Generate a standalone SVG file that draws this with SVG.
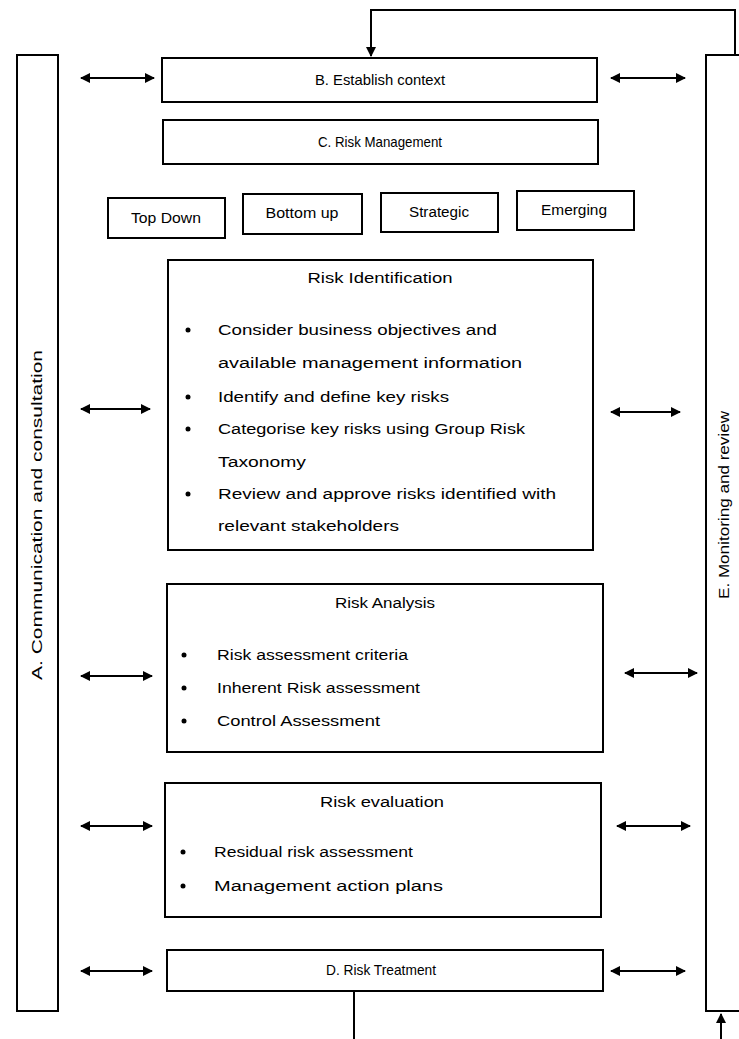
<svg xmlns="http://www.w3.org/2000/svg" width="739" height="1039" viewBox="0 0 739 1039">
<style>
.box{fill:#fff;stroke:#000;stroke-width:2}
.t{font-family:"Liberation Sans",Arial,sans-serif;font-size:14px;fill:#000}
.h{font-size:15px}
.c{text-anchor:middle}
.con{stroke:#000;stroke-width:2;fill:none}
.dot{fill:#000}
</style>
<defs>
<marker id="ah" viewBox="0 0 10 10" refX="9" refY="5" markerWidth="5" markerHeight="5" orient="auto-start-reverse" markerUnits="strokeWidth">
<path d="M0,0 L10,5 L0,10 z" fill="#000"/>
</marker>
</defs>
<rect width="739" height="1039" fill="#fff"/>

<g id="barA">
<rect class="box" x="17" y="55" width="41" height="956"/>
<text class="t" font-size="15" transform="translate(42,515) rotate(-90)" text-anchor="middle" textLength="330" lengthAdjust="spacingAndGlyphs">A.  Communication and consultation</text>
</g>
<g id="barE">
<path class="con" d="M739,55 L706,55 L706,1011 L739,1011"/>
<text class="t" font-size="14" transform="translate(729,505) rotate(-90)" text-anchor="middle" textLength="188" lengthAdjust="spacingAndGlyphs">E. Monitoring and review</text>
</g>

<g id="nodeB">
<rect class="box" x="162" y="58" width="435" height="44"/>
<text class="t h c" x="380" y="85" textLength="130" lengthAdjust="spacingAndGlyphs">B. Establish context</text>
</g>
<g id="nodeC">
<rect class="box" x="163" y="120" width="435" height="44"/>
<text class="t h c" x="380" y="147" textLength="124" lengthAdjust="spacingAndGlyphs">C. Risk Management</text>
</g>
<g id="topdown">
<rect class="box" x="108" y="198" width="117" height="40"/>
<text class="t c" x="166" y="223" textLength="70" lengthAdjust="spacingAndGlyphs">Top Down</text>
</g>
<g id="bottomup">
<rect class="box" x="243" y="194" width="119" height="40"/>
<text class="t c" x="302" y="218" textLength="73" lengthAdjust="spacingAndGlyphs">Bottom up</text>
</g>
<g id="strategic">
<rect class="box" x="381" y="193" width="117" height="39"/>
<text class="t c" x="439" y="217" textLength="60" lengthAdjust="spacingAndGlyphs">Strategic</text>
</g>
<g id="emerging">
<rect class="box" x="517" y="191" width="117" height="39"/>
<text class="t c" x="574" y="215" textLength="66" lengthAdjust="spacingAndGlyphs">Emerging</text>
</g>

<g id="riskid">
<rect class="box" x="168" y="260" width="425" height="290"/>
<text class="t c" x="380" y="283" textLength="145" lengthAdjust="spacingAndGlyphs">Risk Identification</text>
<circle class="dot" cx="188" cy="330" r="2.5"/>
<text class="t" x="218" y="335" textLength="279" lengthAdjust="spacingAndGlyphs">Consider business objectives and</text>
<text class="t" x="218" y="368" textLength="304" lengthAdjust="spacingAndGlyphs">available management information</text>
<circle class="dot" cx="188" cy="397" r="2.5"/>
<text class="t" x="218" y="402" textLength="231" lengthAdjust="spacingAndGlyphs">Identify and define key risks</text>
<circle class="dot" cx="188" cy="429" r="2.5"/>
<text class="t" x="218" y="434" textLength="307" lengthAdjust="spacingAndGlyphs">Categorise key risks using Group Risk</text>
<text class="t" x="218" y="467" textLength="88" lengthAdjust="spacingAndGlyphs">Taxonomy</text>
<circle class="dot" cx="188" cy="494" r="2.5"/>
<text class="t" x="218" y="499" textLength="338" lengthAdjust="spacingAndGlyphs">Review and approve risks identified with</text>
<text class="t" x="218" y="531" textLength="181" lengthAdjust="spacingAndGlyphs">relevant stakeholders</text>
</g>

<g id="riskanalysis">
<rect class="box" x="167" y="584" width="436" height="168"/>
<text class="t c" x="385" y="608" textLength="100" lengthAdjust="spacingAndGlyphs">Risk Analysis</text>
<circle class="dot" cx="184" cy="655" r="2.5"/>
<text class="t" x="217" y="660" textLength="191" lengthAdjust="spacingAndGlyphs">Risk assessment criteria</text>
<circle class="dot" cx="184" cy="688" r="2.5"/>
<text class="t" x="217" y="693" textLength="203" lengthAdjust="spacingAndGlyphs">Inherent Risk assessment</text>
<circle class="dot" cx="184" cy="721" r="2.5"/>
<text class="t" x="217" y="726" textLength="163" lengthAdjust="spacingAndGlyphs">Control Assessment</text>
</g>

<g id="riskeval">
<rect class="box" x="165" y="783" width="436" height="134"/>
<text class="t c" x="382" y="807" textLength="124" lengthAdjust="spacingAndGlyphs">Risk evaluation</text>
<circle class="dot" cx="183" cy="852" r="2.5"/>
<text class="t" x="214" y="857" textLength="199" lengthAdjust="spacingAndGlyphs">Residual risk assessment</text>
<circle class="dot" cx="183" cy="886" r="2.5"/>
<text class="t" x="214" y="891" textLength="229" lengthAdjust="spacingAndGlyphs">Management action plans</text>
</g>

<g id="nodeD">
<rect class="box" x="167" y="950" width="436" height="41"/>
<text class="t h c" x="381" y="975" textLength="110" lengthAdjust="spacingAndGlyphs">D. Risk Treatment</text>
</g>

<g id="connectors">
<path class="con" d="M735,55 L735,10 L371,10 L371,56" marker-end="url(#ah)"/>
<path class="con" d="M354,991 L354,1039"/>
<path class="con" d="M721,1039 L721,1014" marker-end="url(#ah)"/>
<line class="con" x1="81" y1="78" x2="154" y2="78" marker-start="url(#ah)" marker-end="url(#ah)"/>
<line class="con" x1="611" y1="78" x2="685" y2="78" marker-start="url(#ah)" marker-end="url(#ah)"/>
<line class="con" x1="81" y1="409" x2="150" y2="409" marker-start="url(#ah)" marker-end="url(#ah)"/>
<line class="con" x1="611" y1="412" x2="680" y2="412" marker-start="url(#ah)" marker-end="url(#ah)"/>
<line class="con" x1="81" y1="676" x2="152" y2="676" marker-start="url(#ah)" marker-end="url(#ah)"/>
<line class="con" x1="625" y1="673" x2="697" y2="673" marker-start="url(#ah)" marker-end="url(#ah)"/>
<line class="con" x1="81" y1="826" x2="152" y2="826" marker-start="url(#ah)" marker-end="url(#ah)"/>
<line class="con" x1="617" y1="826" x2="690" y2="826" marker-start="url(#ah)" marker-end="url(#ah)"/>
<line class="con" x1="81" y1="971" x2="152" y2="971" marker-start="url(#ah)" marker-end="url(#ah)"/>
<line class="con" x1="611" y1="971" x2="685" y2="971" marker-start="url(#ah)" marker-end="url(#ah)"/>
</g>
</svg>
